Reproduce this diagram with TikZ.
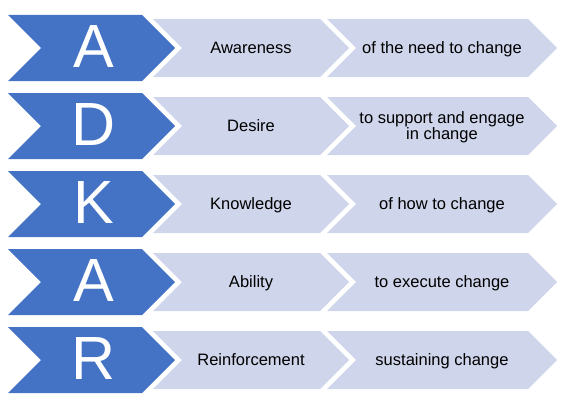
\documentclass[tikz,border=0pt]{standalone}
\usepackage{fontspec}
\setmainfont{Liberation Sans}
\usepackage{tikz}
\usetikzlibrary{positioning}

\definecolor{adkarblue}{HTML}{4472C4}
\definecolor{adkarpale}{HTML}{CFD5EA}

\begin{document}
\begin{tikzpicture}[x=1pt,y=-1pt,
  letterbox/.style={fill=adkarblue},
  palebox/.style={fill=adkarpale},
  bigletter/.style={text=white,font=\fontsize{61}{61}\selectfont,anchor=base,inner sep=0pt},
  smalltext/.style={text=black,font=\fontsize{16.5}{16}\selectfont,align=center,anchor=base,inner sep=0pt},
]
%
  \useasboundingbox (0,0) rectangle (567,412);
%
  \foreach \i/\ltr/\word/\what/\yb in {%
      0/A/Awareness/{of the need to change}/38.3,
      1/D/Desire/{to support and engage\\in change}/46.3,
      2/K/Knowledge/{of how to change}/38.3,
      3/A/Ability/{to execute change}/38.3,
      4/R/Reinforcement/{sustaining change}/38.3}{%
    \pgfmathsetmacro{\yt}{15+78*\i}
    % far chevron
    \fill[palebox] (327,\yt+4) -- (528,\yt+4) -- (557,\yt+33) -- (528,\yt+62)
      -- (327,\yt+62) -- (356,\yt+33) -- cycle;
    % middle chevron
    \fill[palebox] (153,\yt+4) -- (320,\yt+4) -- (349,\yt+33) -- (320,\yt+62)
      -- (153,\yt+62) -- (182,\yt+33) -- cycle;
    % letter chevron
    \fill[letterbox] (8,\yt) -- (142,\yt) -- (175,\yt+33) -- (142,\yt+66)
      -- (8,\yt+66) -- (41,\yt+33) -- cycle;
    \node (ltr\i) at (94,\yt+52.5) [bigletter] {\ltr};
    \node (word\i) at (251,\yt+38.3) [smalltext] {\word};
    \node (what\i) at (442,\yt+\yb) [smalltext] {\what};
  }
%
\end{tikzpicture}
\end{document}
